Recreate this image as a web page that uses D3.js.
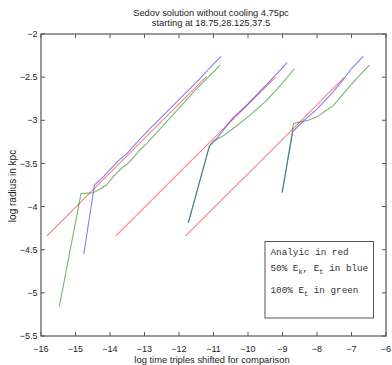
<!DOCTYPE html>
<html><head><meta charset="utf-8">
<script src="https://cdn.jsdelivr.net/npm/d3@7"></script>
<style>
body{margin:0;background:#fff;}
svg{display:block;font-family:"Liberation Sans",Arial,sans-serif;}
</style></head>
<body><svg id="c" width="392" height="365"></svg>
<script>
const titleLines = ["Sedov solution without cooling 4.75pc", "starting at 18.75,28.125,37.5"];
const xLabel = "log time triples shifted for comparison";
const yLabel = "log radius in kpc";
const xTicks = [-16,-15,-14,-13,-12,-11,-10,-9,-8,-7,-6];
const yTicks = [-5.5,-5,-4.5,-4,-3.5,-3,-2.5,-2];

// Analytic (red)
const analyticA = [[-15.83,-4.34],[-13.5,-3.41],[-11.2,-2.49]];
const analyticB = [[-13.83,-4.34],[-11.5,-3.41],[-9.2,-2.50]];
const analyticC = [[-11.81,-4.34],[-9.5,-3.42],[-7.2,-2.50]];
// 50% Ek, Et (blue)
const halfA = [[-14.76,-4.55],[-14.45,-3.75],[-14.2,-3.66],[-13.95,-3.55],[-13.76,-3.47],[-13.5,-3.38],[-13.18,-3.24],[-12.9,-3.12],[-12.5,-2.96],[-12.0,-2.76],[-11.5,-2.56],[-11.0,-2.35],[-10.78,-2.26]];
const halfB = [[-11.73,-4.19],[-11.12,-3.30],[-10.9,-3.21],[-10.43,-2.97],[-10.0,-2.81],[-9.5,-2.60],[-9.0,-2.39],[-8.86,-2.33]];
const halfC = [[-9.01,-3.84],[-8.70,-3.13],[-8.4,-3.01],[-8.0,-2.87],[-7.53,-2.67],[-7.2,-2.51],[-7.0,-2.40],[-6.66,-2.26]];
// 100% Et (green)
const fullA = [[-15.47,-5.16],[-14.84,-3.85],[-14.48,-3.84],[-14.3,-3.80],[-14.1,-3.75],[-13.9,-3.65],[-13.7,-3.57],[-13.42,-3.48],[-13.15,-3.35],[-12.94,-3.27],[-12.55,-3.10],[-12.0,-2.86],[-11.5,-2.64],[-11.0,-2.44],[-10.81,-2.36]];
const fullB = [[-11.73,-4.19],[-11.12,-3.30],[-11.0,-3.24],[-10.76,-3.19],[-10.38,-3.08],[-9.94,-2.94],[-9.46,-2.77],[-9.0,-2.57],[-8.65,-2.40]];
const fullC = [[-9.01,-3.84],[-8.68,-3.04],[-8.5,-3.02],[-8.25,-3.0],[-8.0,-2.96],[-7.75,-2.89],[-7.53,-2.83],[-7.04,-2.60],[-6.75,-2.47],[-6.48,-2.36]];

const series = [
  {data: analyticA, color: "#ff0000", op: 0.5},
  {data: analyticB, color: "#ff0000", op: 0.5},
  {data: analyticC, color: "#ff0000", op: 0.5},
  {data: halfA, color: "#0000ff", op: 0.5},
  {data: halfB, color: "#0000ff", op: 0.5},
  {data: halfC, color: "#0000ff", op: 0.5},
  {data: fullA, color: "#008000", op: 0.55},
  {data: fullB, color: "#008000", op: 0.55},
  {data: fullC, color: "#008000", op: 0.55}
];

const L = 41, R = 386, T = 34, B = 336;
const svg = d3.select("#c");
const x = d3.scaleLinear().domain([-16,-6]).range([L,R]);
const y = d3.scaleLinear().domain([-5.5,-2]).range([B,T]);
const fmt = d => String(d).replace("-", "\u2212");

// frame
const axCol = "#555";
svg.append("rect").attr("x",L).attr("y",T).attr("width",R-L).attr("height",B-T)
  .attr("fill","none").attr("stroke",axCol).attr("stroke-width",1.2);

// ticks (inward, all four sides)
const tl = 4;
xTicks.forEach(v => {
  const px = x(v);
  svg.append("line").attr("x1",px).attr("x2",px).attr("y1",B).attr("y2",B-tl).attr("stroke",axCol);
  svg.append("line").attr("x1",px).attr("x2",px).attr("y1",T).attr("y2",T+tl).attr("stroke",axCol);
  svg.append("text").attr("x",px).attr("y",351.5).attr("text-anchor","middle")
    .attr("font-size",9).attr("fill","#222").text(fmt(v));
});
yTicks.forEach(v => {
  const py = y(v);
  svg.append("line").attr("x1",L).attr("x2",L+tl).attr("y1",py).attr("y2",py).attr("stroke",axCol);
  svg.append("line").attr("x1",R).attr("x2",R-tl).attr("y1",py).attr("y2",py).attr("stroke",axCol);
  svg.append("text").attr("x",37.5).attr("y",py).attr("dy","0.35em").attr("text-anchor","end")
    .attr("font-size",9).attr("fill","#222").text(fmt(v));
});

// lines
const line = d3.line().x(d => x(d[0])).y(d => y(d[1]));
svg.append("g").selectAll("path").data(series).join("path")
  .attr("d", d => line(d.data))
  .attr("fill","none")
  .attr("stroke", d => d.color)
  .attr("stroke-opacity", d => d.op)
  .attr("stroke-width",1.1);

// titles
svg.append("text").attr("x",211).attr("y",15.5).attr("text-anchor","middle")
  .attr("font-size",9.3).attr("fill","#222").text(titleLines[0]);
svg.append("text").attr("x",211).attr("y",25.8).attr("text-anchor","middle")
  .attr("font-size",9.3).attr("fill","#222").text(titleLines[1]);
svg.append("text").attr("x",212).attr("y",363).attr("text-anchor","middle")
  .attr("font-size",9.4).attr("fill","#222").text(xLabel);
svg.append("text").attr("transform","translate(16.3,186) rotate(-90)").attr("text-anchor","middle")
  .attr("font-size",10).attr("fill","#222").text(yLabel);

// legend
const lg = svg.append("g");
lg.append("rect").attr("x",265).attr("y",241.5).attr("width",108.5).attr("height",76.5)
  .attr("fill","#fff").attr("stroke",axCol).attr("stroke-width",1);
const mono = "'Liberation Mono','DejaVu Sans Mono',monospace";
const t1 = lg.append("text").attr("x",270.5).attr("y",255).attr("font-family",mono).attr("font-size",9.3).attr("fill","#333");
t1.text("Analyic in red");
const t2 = lg.append("text").attr("x",270.5).attr("y",271).attr("font-family",mono).attr("font-size",9.3).attr("fill","#333");
t2.append("tspan").text("50% E");
t2.append("tspan").attr("font-size",7).attr("dy",2.5).text("k");
t2.append("tspan").attr("dy",-2.5).text(", E");
t2.append("tspan").attr("font-size",7).attr("dy",2.5).text("t");
t2.append("tspan").attr("dy",-2.5).text(" in blue");
const t3 = lg.append("text").attr("x",270.5).attr("y",293.3).attr("font-family",mono).attr("font-size",9.3).attr("fill","#333");
t3.append("tspan").text("100% E");
t3.append("tspan").attr("font-size",7).attr("dy",2.5).text("t");
t3.append("tspan").attr("dy",-2.5).text(" in green");
</script></body></html>
